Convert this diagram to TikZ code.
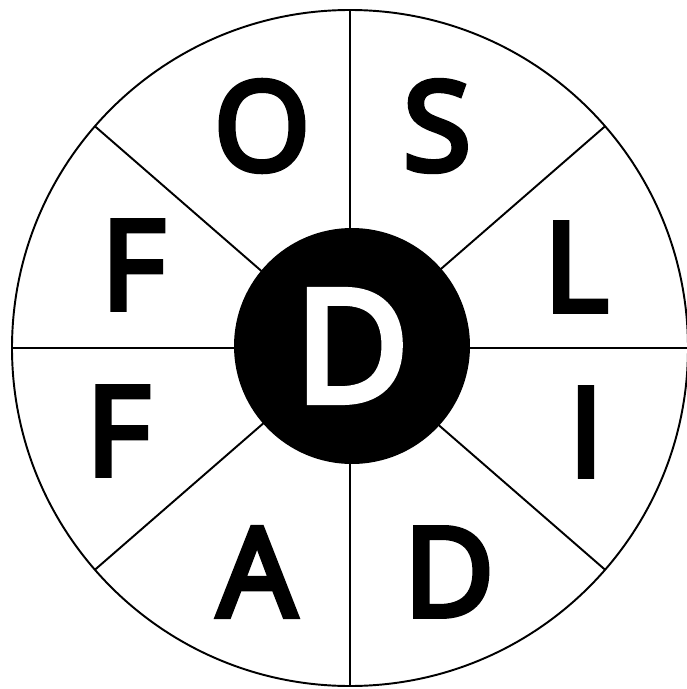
\documentclass[tikz,border=0pt]{standalone}
\usepackage{fontspec}
\setmainfont{Open Sans}
\newfontfamily\wheelfont{Open Sans}[FakeBold=5]
\usepackage{tikz}
\usetikzlibrary{calc}

\tikzset{
  letter/.style={inner sep=0pt,font=\wheelfont\fontsize{70}{70}\selectfont},
  hub/.style={circle,fill=black,text=white,minimum size=4.72cm,inner sep=0pt,
    font=\wheelfont\fontsize{88}{88}\selectfont}
}

\begin{document}
\begin{tikzpicture}[x=0.02cm,y=-0.02cm,line width=1.1pt]
  \useasboundingbox (0,0) rectangle (686,689);
  \coordinate (c) at (350,348);
  \draw (c) circle (338);
  % spokes
  \foreach \a in {0,41,90,139,180,221,270,319}
    \draw (c) -- ($(c)+(\a:338)$) coordinate (r\a);
  \node[hub] (hub) at (352,346) {D};
  \node[letter] (o) at (262,126) {O};
  \node[letter] (s) at (437,126) {S};
  \node[letter] (fa) at (133,265) {F};
  \node[letter] (fb) at (118,431) {F};
  \node[letter] (l) at (576,267) {L};
  \node[letter] (i) at (586,432) {I};
  \node[letter] (a) at (257,572) {A};
  \node[letter] (d) at (449,572) {D};
\end{tikzpicture}
\end{document}
